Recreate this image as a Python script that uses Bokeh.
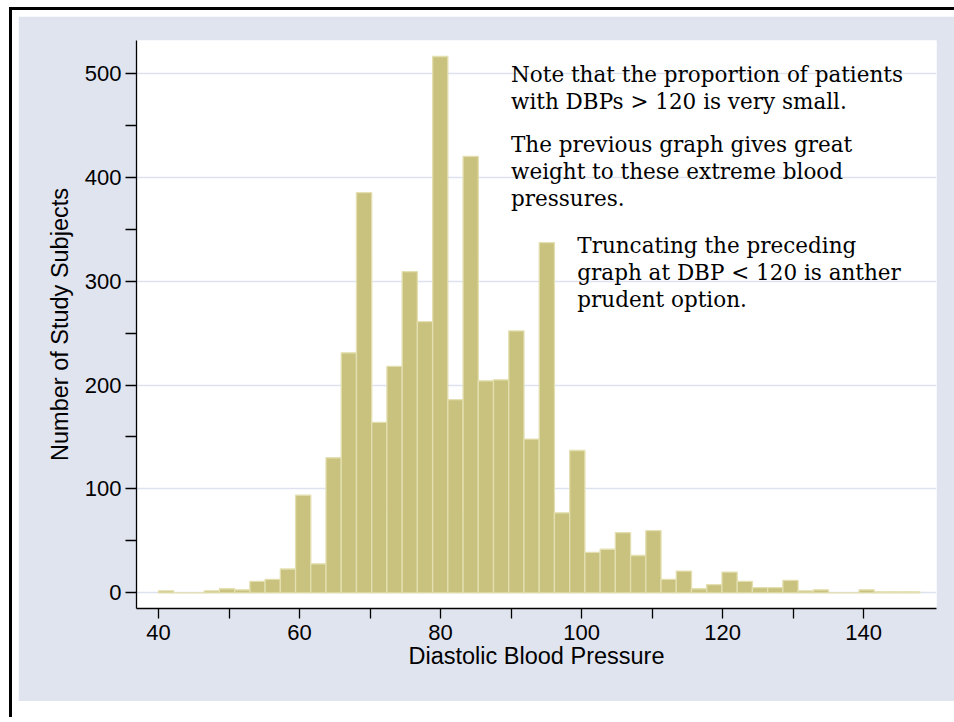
import numpy as np
from bokeh.plotting import figure
from bokeh.layouts import column
from bokeh.models import FixedTicker, ColumnDataSource, Range1d
from bokeh.core.properties import value
from bokeh.embed import file_html
from bokeh.resources import INLINE

# ---- data ----
bin_start = 40.0
bin_width = 2.16
counts = [2, 0, 0, 2, 4, 3, 11, 13, 23, 94,
          28, 130, 231, 385, 164, 218, 309, 261, 516, 186,
          420, 204, 205, 252, 148, 337, 77, 137, 39, 42,
          58, 36, 60, 13, 21, 4, 8, 20, 11, 5,
          5, 12, 2, 3, 0, 0, 3, 1, 1, 1]
x_ticks = [40, 60, 80, 100, 120, 140]
x_minor = [50, 70, 90, 110, 130]
y_ticks = [0, 100, 200, 300, 400, 500]
y_minor = [50, 150, 250, 350, 450]

note1 = ["Note that the proportion of patients", "with DBPs > 120 is very small."]
note2 = ["The previous graph gives great", "weight to these extreme blood", "pressures."]
note3 = ["Truncating the preceding", "graph at DBP < 120 is anther", "prudent option."]

# ---- derived ----
n = len(counts)
left = [bin_start + i * bin_width for i in range(n)]
right = [bin_start + (i + 1) * bin_width for i in range(n)]
src = ColumnDataSource(dict(left=left, right=right, top=counts, bottom=[0] * n))

BG = "#e0e4ef"
p = figure(width=936, height=685, output_backend="svg", toolbar_location=None,
           x_range=Range1d(36.88, 150.35), y_range=Range1d(-15.0, 531.4),
           min_border_left=118, min_border_right=18, min_border_top=24, min_border_bottom=93,
           background_fill_color="white", border_fill_color=BG, outline_line_color=None)

p.quad(left="left", right="right", top="top", bottom="bottom", source=src,
       fill_color="#c9c27e", line_color="#e3dfb0", line_width=1.3)

# axes
for ax in (p.xaxis[0], p.yaxis[0]):
    ax.axis_line_color = "black"
    ax.axis_line_width = 1.3
    ax.major_tick_line_color = "black"
    ax.minor_tick_line_color = "black"
    ax.major_tick_line_width = 1.3
    ax.minor_tick_line_width = 1.3
    ax.major_tick_in = 0
    ax.minor_tick_in = 0
    ax.major_label_text_font = "Liberation Sans"
    ax.major_label_text_font_size = "22px"
    ax.major_label_text_color = "black"
    ax.axis_label_text_font = "Liberation Sans"
    ax.axis_label_text_font_size = "23.5px"
    ax.axis_label_text_font_style = "normal"
    ax.axis_label_text_color = "black"

p.xaxis.ticker = FixedTicker(ticks=x_ticks, minor_ticks=x_minor)
p.yaxis.ticker = FixedTicker(ticks=y_ticks, minor_ticks=y_minor)
p.xaxis.major_tick_out = 10
p.xaxis.minor_tick_out = 10
p.yaxis.major_tick_out = 11
p.yaxis.minor_tick_out = 11
p.xaxis.major_label_standoff = 6
p.yaxis.major_label_standoff = 4
p.xaxis.axis_label = "Diastolic Blood Pressure"
p.yaxis.axis_label = "Number of Study Subjects"
p.xaxis.axis_label_standoff = 0
p.yaxis.axis_label_standoff = 9

p.xgrid.visible = False
p.ygrid.ticker = FixedTicker(ticks=y_ticks)
p.ygrid.grid_line_color = "#dde2ee"
p.ygrid.grid_line_width = 1.6

# annotations (data coordinates, Stata-style text())
line_step = 26.0
blocks = [(90.0, 498.5, note1), (90.0, 431.5, note2), (99.4, 334.5, note3)]
tx, ty, tt = [], [], []
for bx, by, lines in blocks:
    for k, s in enumerate(lines):
        tx.append(bx)
        ty.append(by - k * line_step)
        tt.append(s)
p.text(x=tx, y=ty, text=tt, text_font=value("DejaVu Serif"), text_font_size="21.5px",
       text_color="black", text_align="left", text_baseline="alphabetic")

layout = column(p, styles={"border-left": "3px solid #000", "border-top": "3px solid #000",
                           "margin-left": "9px", "margin-top": "7px",
                           "padding": "6px 0px 16px 6px", "background": "white",
                           "box-sizing": "content-box"})

open("out.html", "w").write(file_html(layout, INLINE))
